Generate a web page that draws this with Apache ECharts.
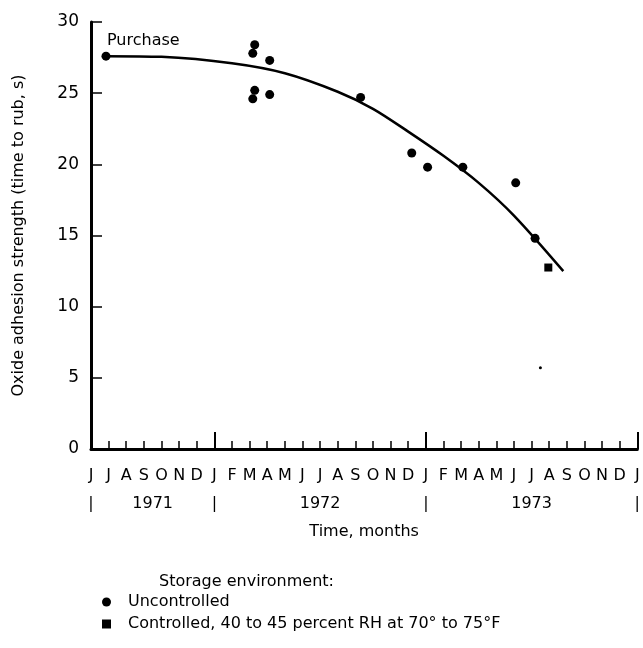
<!DOCTYPE html>
<html>
<head>
<meta charset="utf-8">
<script src="https://cdn.jsdelivr.net/npm/echarts@6/dist/echarts.min.js"></script>
<style>
html,body{margin:0;padding:0;background:#fff;}
#chart{width:643px;height:648px;}
</style>
</head>
<body>
<div id="chart"></div>
<script>
// Month index 0 = June 1971 ... 31 = January 1974
const monthLabels = ['J','J','A','S','O','N','D','J','F','M','A','M','J','J','A','S','O','N','D','J','F','M','A','M','J','J','A','S','O','N','D','J'];
const yearBoundaries = [0, 7, 19, 31];
const yearNames = ['1971', '1972', '1973'];
const yearCenters = [3.5, 13, 25];

// Uncontrolled storage (circles)
const uncontrolledMonth = [0.85, 9.29, 9.18, 10.14, 9.29, 9.18, 10.14, 15.3, 18.2, 19.1, 21.1, 24.1, 25.2];
const uncontrolledValue = [27.6, 28.4, 27.8, 27.3, 25.2, 24.6, 24.9, 24.7, 20.8, 19.8, 19.8, 18.7, 14.8];

// Controlled storage (square)
const controlledMonth = [25.95];
const controlledValue = [12.75];

// Stray speck in the plot
const speckMonth = [25.5];
const speckValue = [5.7];

// Fitted curve
const curveMonth = [0.85, 4, 8, 11, 14, 16, 18, 20, 22, 24, 26.8];
const curveValue = [27.6, 27.55, 27.1, 26.4, 25.1, 23.9, 22.3, 20.6, 18.7, 16.4, 12.5];

const seriesNames = ['Uncontrolled', 'Controlled, 40 to 45 percent RH at 70\u00b0 to 75\u00b0F'];

const FONT = 'DejaVu Sans, Liberation Sans, sans-serif';
const zip = (a, b) => a.map((v, i) => [v, b[i]]);

const chart = echarts.init(document.getElementById('chart'), null, {renderer: 'canvas'});
chart.setOption({
  animation: false,
  backgroundColor: '#fff',
  textStyle: {fontFamily: FONT, color: '#000'},
  title: {
    text: 'Storage environment:',
    left: 154, top: 569,
    textStyle: {fontFamily: FONT, fontSize: 16, fontWeight: 'normal', color: '#000'}
  },
  legend: {
    orient: 'vertical',
    left: 97, top: 589,
    itemWidth: 9, itemHeight: 9, itemGap: 6,
    data: seriesNames,
    textStyle: {fontFamily: FONT, fontSize: 16, color: '#000', padding: [0, 0, 0, 12]}
  },
  grid: {left: 91, right: 4, top: 22, bottom: 199, containLabel: false},
  xAxis: [{
    type: 'value', min: 0, max: 31, interval: 1,
    axisLine: {show: true, lineStyle: {color: '#000', width: 3}},
    axisTick: {show: true, inside: true, length: 8, lineStyle: {color: '#000', width: 1.5}},
    splitLine: {show: false},
    axisLabel: {
      margin: 19, fontSize: 16, color: '#000', fontFamily: FONT,
      showMinLabel: true, showMaxLabel: true,
      formatter: v => monthLabels[Math.round(v)] || ''
    },
    name: 'Time, months', nameLocation: 'middle', nameGap: 75,
    nameTextStyle: {fontSize: 16, color: '#000', fontFamily: FONT}
  }, {
    type: 'value', min: 0, max: 31, position: 'bottom',
    axisLine: {show: false},
    axisTick: {show: true, inside: true, length: 17, customValues: yearBoundaries.slice(1), lineStyle: {color: '#000', width: 2}},
    splitLine: {show: false},
    axisLabel: {
      margin: 47, fontSize: 16, color: '#000', fontFamily: FONT,
      customValues: yearBoundaries.concat(yearCenters),
      formatter: v => {
        const i = yearCenters.indexOf(v);
        return i >= 0 ? yearNames[i] : '|';
      }
    }
  }],
  yAxis: {
    type: 'value', min: 0, max: 30, interval: 5,
    axisLine: {show: true, lineStyle: {color: '#000', width: 3}},
    axisTick: {show: true, inside: true, length: 11, lineStyle: {color: '#000', width: 1.5}},
    splitLine: {show: false},
    axisLabel: {margin: 12, fontSize: 17, color: '#000', fontFamily: FONT},
    name: 'Oxide adhesion strength (time to rub, s)',
    nameLocation: 'middle', nameGap: 64,
    nameTextStyle: {fontSize: 16, color: '#000', fontFamily: FONT}
  },
  series: [{
    type: 'line', name: 'fit', smooth: 0.3, showSymbol: false, silent: true,
    xAxisIndex: 0,
    lineStyle: {color: '#000', width: 2.5},
    data: zip(curveMonth, curveValue),
    z: 2
  }, {
    type: 'scatter', name: seriesNames[0], symbol: 'circle', symbolSize: 9,
    itemStyle: {color: '#000', opacity: 1},
    data: zip(uncontrolledMonth, uncontrolledValue).map((d, i) => i === 0 ? {
      value: d,
      label: {show: true, formatter: 'Purchase', position: 'top', align: 'left', offset: [1, 2], fontSize: 16, color: '#000', fontFamily: FONT}
    } : d),
    z: 3
  }, {
    type: 'scatter', name: seriesNames[1], symbol: 'rect', symbolSize: 8,
    itemStyle: {color: '#000', opacity: 1},
    data: zip(controlledMonth, controlledValue),
    z: 3
  }, {
    type: 'scatter', name: 'speck', symbol: 'circle', symbolSize: 3, silent: true,
    itemStyle: {color: '#000', opacity: 1},
    data: zip(speckMonth, speckValue),
    z: 3
  }]
});
</script>
</body>
</html>
